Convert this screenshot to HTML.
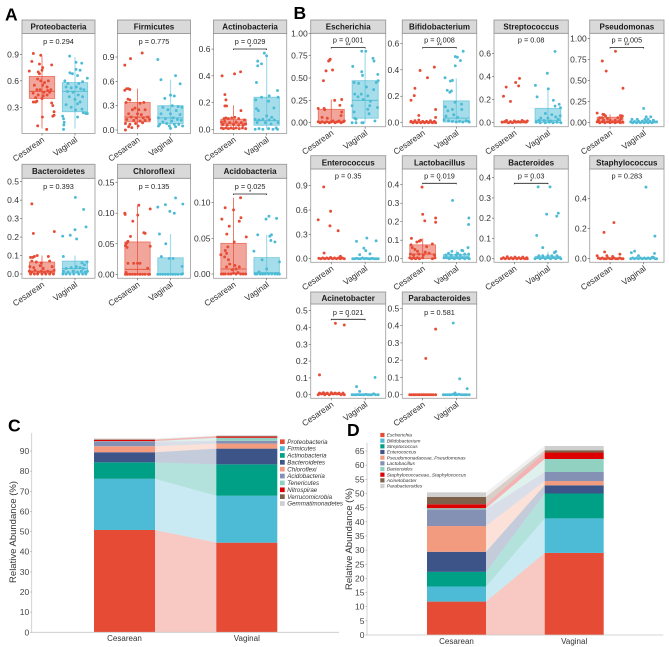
<!DOCTYPE html>
<html lang="en">
<head>
<meta charset="utf-8">
<title>Microbiome abundance by delivery mode</title>
<style>
html,body{margin:0;padding:0;background:#fff;width:669px;height:647px;overflow:hidden}
svg{display:block;font-family:"Liberation Sans",sans-serif}
</style>
</head>
<body>
<svg id="figure" xmlns="http://www.w3.org/2000/svg" width="669" height="647" viewBox="0 0 669 647">
<text x="5" y="20.5" font-size="17.5" font-weight="bold">A</text>
<text x="293.5" y="19" font-size="17.5" font-weight="bold">B</text>
<text x="8" y="431.5" font-size="17.5" font-weight="bold">C</text>
<text x="347" y="436" font-size="17.5" font-weight="bold">D</text>
</svg>
<script>
// Point series: each observation is [jitter within the box width (-1..1), relative abundance]
// Box series: [whisker low, q1, median, q3, whisker high]
const proteobacteriaC=[[-.68,.91],[-.1,.89],[-.8,.82],[-.2,.79],[.76,.78],[-1,.71],[-.3,.7],[-.2,.68],[0,.72],[.05,.75],[-.35,.62],[-.1,.6],[.2,.58],[.5,.6],[-.6,.55],[.05,.55],[.4,.53],[-.4,.5],[-.15,.5],[.15,.47],[.45,.49],[.7,.5],[-.7,.46],[-.3,.44],[.1,.43],[.4,.44],[.6,.47],[-.5,.41],[0,.4],[-.68,.36],[-.5,.36],[-.4,.37],[.76,.35],[.85,.32],[.95,.25],[.95,.21],[.85,.2],[.03,.19],[-.34,.09],[.37,.05]];
const proteobacteriaV=[[-.42,.88],[.08,.81],[.53,.8],[.08,.73],[-.4,.69],[.4,.72],[.97,.63],[-.2,.68],[.2,.66],[-.8,.6],[-.55,.57],[.3,.57],[.6,.59],[-.7,.53],[-.3,.52],[.1,.53],[.45,.51],[.7,.5],[-.6,.48],[-.15,.47],[.25,.44],[.6,.42],[-.45,.42],[0,.39],[.4,.36],[.2,.34],[-.7,.33],[-.3,.3],[.05,.27],[.55,.28],[.65,.24],[.85,.23],[.97,.23],[-.97,.2],[.2,.19],[-.9,.17],[-.85,.13],[-.88,.1],[-.9,.05]];
const firmicutesC=[[-1,.8],[-.55,.88],[.37,.95],[-1,.49],[-.85,.51],[-.72,.51],[-.6,.5],[-.75,.38],[-.6,.37],[-.9,.34],[.2,.33],[.5,.34],[-.2,.27],[-.4,.25],[.1,.25],[.6,.25],[-.7,.2],[0,.2],[.3,.19],[-.5,.16],[-.1,.15],[.45,.15],[.8,.16],[-.85,.13],[-.3,.12],[.2,.11],[.6,.12],[.95,.13],[-.95,.08],[-.6,.07],[-.15,.08],[.4,.09],[-.7,.04],[-.45,.03],[-.95,.0],[.05,.05]];
const firmicutesV=[[-1,.87],[-.75,.62],[.4,.67],[.76,.57],[0,.43],[.3,.42],[-.45,.39],[-.6,.28],[.15,.3],[.6,.29],[.9,.28],[-.2,.25],[.45,.24],[-.75,.2],[0,.2],[.75,.19],[-.95,.15],[-.4,.14],[.2,.15],[.55,.13],[-.6,.1],[.1,.11],[.85,.12],[-.85,.07],[-.3,.08],[.3,.07],[.65,.07],[-.95,.05],[-.1,.05],[.95,.05],[0,.02],[.4,.04]];
const actinobacteriaC=[[-.9,.4],[.08,.415],[.55,.43],[-.68,.26],[-.6,.22],[-.55,.175],[-.68,.175],[.58,.14],[-.75,.08],[-.6,.085],[-.4,.08],[-.15,.085],[.1,.09],[.4,.08],[.85,.07],[-.95,.055],[-.7,.06],[-.3,.05],[.2,.055],[.6,.05],[.95,.04],[-.85,.035],[-.5,.03],[0,.035],[.4,.03],[.75,.03],[-.95,.01],[-.8,.005],[-.6,.01],[-.4,.005],[-.2,.01],[0,.005],[.2,.01],[.45,.005],[.7,.01],[.95,.005]];
const actinobacteriaV=[[-.18,.57],[0,.55],[-.7,.51],[-.4,.49],[-.7,.475],[-.8,.35],[.85,.29],[.2,.25],[-.4,.24],[-.85,.22],[.9,.24],[.57,.16],[-.8,.155],[.15,.21],[-.65,.14],[0,.1],[.4,.09],[-.9,.075],[-.6,.07],[-.3,.075],[.2,.07],[.6,.07],[.9,.05],[-.75,.05],[-.1,.05],[.35,.04],[-.9,.0],[-.6,.005],[-.3,0],[.15,.005],[.5,0],[.75,.01],[.85,0]];
const bacteroidetesC=[[-.8,.38],[-.68,.22],[.97,.23],[-.9,.09],[-.72,.09],[-.6,.095],[-.38,.1],[.5,.095],[-.8,.07],[-.45,.065],[-.05,.06],[.6,.07],[-.95,.04],[-.65,.035],[-.15,.045],[.1,.03],[.8,.04],[-1,.015],[-.8,.01],[-.55,.02],[-.3,.01],[-.05,.015],[.2,.01],[.45,.015],[.7,.01],[.95,.02],[-.9,0],[-.6,0],[-.35,0],[0,0],[.3,0],[.6,0],[.9,0]];
const bacteroidetesV=[[.03,.415],[.68,.35],[.87,.255],[0,.24],[.13,.19],[-.97,.205],[-.37,.21],[-.92,.095],[.95,.065],[.55,.06],[.75,.05],[-.7,.03],[-.3,.035],[.1,.04],[.4,.035],[.65,.03],[-.9,.015],[-.55,.01],[-.15,.015],[.2,.01],[.5,.015],[.8,.01],[.98,.015],[-.95,0],[-.7,0],[-.4,0],[-.1,0],[.3,0],[.6,0],[.85,0]];
const chloroflexiC=[[-1,.1],[-.97,.098],[.1,.113],[.02,.097],[-.37,.087],[1,.107],[-.55,.062],[.5,.068],[.6,.067],[-.9,.05],[-.82,.052],[-.75,.054],[-.95,.047],[-.82,.044],[1,.046],[-.75,.018],[-.3,.018],[0,.018],[.2,.018],[.8,.01],[-.9,.003],[-.95,0],[-.8,0],[-.6,0],[-.4,0],[-.2,0],[0,0],[.2,0],[.4,0],[.6,0],[.85,0],[.95,0]];
const chloroflexiV=[[.4,.125],[-1,.11],[-.4,.114],[.97,.115],[-.05,.103],[.3,.1],[-.87,.066],[-.37,.05],[-.72,.029],[-.1,.026],[.2,.026],[.92,.013],[-1,0],[-.8,0],[-.6,0],[-.4,0],[-.2,0],[0,0],[.2,0],[.4,0],[.6,0],[.85,0],[.95,.001]];
const acidobacteriaC=[[.55,.107],[-.66,.093],[0,.09],[-.92,.077],[.58,.079],[.45,.074],[-.34,.067],[1,.052],[-.53,.056],[.05,.045],[-.45,.038],[-.65,.033],[-.55,.029],[-1,.027],[-.7,.024],[-.4,.02],[-.3,.014],[.1,.012],[-.55,.01],[.45,.01],[.2,.007],[-.1,.006],[-.95,0],[-.8,0],[-.65,0],[-.4,0],[-.2,0],[0,.001],[.2,0],[.35,.002],[.55,0],[.75,0],[.95,0]];
const acidobacteriaV=[[.18,.081],[-.05,.077],[.78,.078],[-.7,.055],[.25,.053],[.38,.055],[.33,.047],[.65,.045],[-1,.032],[1,.017],[-.36,.02],[0,.007],[-.6,.003],[-.9,0],[-.75,0],[-.5,0],[-.3,0],[-.1,0],[.15,0],[.4,0],[.65,0],[.85,0],[1,0]];
const escherichiaC=[[-.08,.71],[-.13,.7],[-.2,.69],[.1,.59],[-.4,.58],[-.6,.47],[.8,.26],[.26,.25],[.66,.195],[-1,.16],[-.55,.16],[-.5,.145],[.8,.12],[.75,.08],[-.7,.06],[-.3,.05],[-1,.01],[-.85,0],[-.7,.01],[-.5,0],[-.35,.01],[-.15,0],[0,.01],[.15,.02],[.3,0],[.45,.01],[.6,.02],[.75,0],[.9,.01],[1,.02]];
const escherichiaV=[[-.26,.8],[.05,.8],[-.95,.63],[.6,.72],[.68,.69],[-.26,.57],[-.2,.53],[.97,.54],[.85,.45],[1,.47],[-.85,.45],[-.5,.44],[.1,.4],[.65,.37],[-.8,.32],[-.3,.32],[-.55,.29],[.2,.3],[-.15,.26],[.4,.24],[.35,.19],[-1,.19],[.2,.15],[.95,.17],[-.85,.12],[.3,.1],[-.8,.05],[-.7,.04],[.75,.02],[-1,0],[-.7,0],[-.25,0],[-.15,0]];
const bifidobacteriumC=[[-.2,.395],[.9,.42],[.37,.34],[-.6,.26],[-.65,.205],[-.9,.17],[1,.1],[-.3,.055],[1,.04],[-.9,.01],[-.75,0],[-.6,.015],[-.45,0],[-.3,.02],[-.15,0],[0,.01],[.15,0],[.3,.01],[.45,0],[.6,.015],[.75,0],[.9,.01],[1,0]];
const bifidobacteriumV=[[.53,.54],[-.08,.5],[.08,.495],[.32,.47],[-.08,.43],[-.87,.34],[-.45,.315],[-.3,.32],[-.7,.245],[-.5,.23],[-.38,.24],[-.1,.155],[.4,.14],[.42,.1],[-.85,.12],[-.3,.1],[-.65,.09],[-.8,.05],[-.2,.06],[.1,.04],[-.95,.02],[-.6,.015],[-.3,.01],[0,.005],[.25,.01],[.5,.005],[.75,.015],[.95,.01],[1,.005]];
const streptococcusC=[[.4,.385],[.1,.35],[.33,.32],[-.63,.31],[-.84,.23],[-.3,.185],[-.95,.005],[-.75,.01],[-.6,.02],[-.45,0],[-.3,.01],[-.15,0],[0,.015],[.15,.005],[.3,.01],[.45,.005],[.6,.02],[.75,.01],[.9,.005],[1,.015]];
const streptococcusV=[[.55,.62],[-.05,.43],[-.97,.325],[-.84,.225],[.03,.295],[.42,.195],[.87,.16],[.55,.145],[.97,.13],[-.2,.08],[.3,.07],[.95,.06],[-.55,.04],[0,.04],[.6,.05],[.8,.03],[-.7,.02],[-.3,.02],[.2,.015],[-.9,.005],[-.6,0],[-.2,0],[.1,.005],[.4,0],[.7,.005],[1,0]];
const pseudomonasC=[[.42,.85],[-.6,.735],[-.3,.615],[1,.41],[-1,.115],[-.55,.1],[-.45,.095],[-.35,.08],[.8,.085],[.95,.08],[-.8,.06],[-.6,.06],[-.2,.05],[.6,.06],[.85,.05],[-.9,.03],[-.5,.03],[0,.03],[.4,.03],[.75,.025],[-1,.01],[-.8,0],[-.6,.01],[-.4,0],[-.2,.01],[0,0],[.2,.01],[.4,0],[.6,.01],[.8,0],[1,.005]];
const pseudomonasV=[[0,.17],[.2,.07],[.55,.07],[-.9,.04],[-.5,.04],[.1,.04],[.35,.04],[.75,.03],[-1,.01],[-.85,0],[-.7,.015],[-.55,0],[-.4,.02],[-.25,0],[-.1,.02],[.05,0],[.2,.02],[.35,0],[.5,.015],[.65,0],[.8,.015],[1,.01]];
const enterococcusC=[[-.58,.885],[-.05,.585],[-1,.48],[-.1,.405],[.53,.345],[-.55,.07],[.7,.03],[-.95,.005],[-.8,0],[-.65,.01],[-.5,0],[-.35,.01],[-.2,0],[-.05,.015],[.1,0],[.25,.01],[.4,0],[.55,.01],[.7,0],[.85,.01],[1,0]];
const enterococcusV=[[.13,.255],[-.66,.215],[.84,.22],[-.1,.13],[.05,.1],[.37,.06],[-.42,.05],[-.95,0],[-.8,0],[-.65,.005],[-.5,0],[-.35,0],[-.2,.01],[-.05,0],[.1,.005],[.25,0],[.4,0],[.55,.005],[.7,0],[.85,0],[1,0]];
const lactobacillusC=[[-.05,.387],[0,.24],[.16,.205],[1,.22],[1,.197],[-.87,.11],[-.26,.095],[-.45,.09],[-.9,.075],[-.15,.1],[.75,.08],[.3,.065],[-.8,.06],[-.6,.05],[-.4,.04],[.2,.035],[-.95,.025],[-.7,.02],[-.3,.025],[.05,.02],[.5,.03],[.9,.02],[-1,.005],[-.85,0],[-.7,.005],[-.55,0],[-.4,.005],[-.25,0],[0,.005],[.75,0],[.95,.005]];
const lactobacillusV=[[-.29,.315],[.97,.22],[.95,.185],[.9,.06],[-.34,.04],[.42,.045],[.5,.043],[-.6,.03],[.1,.03],[.95,.025],[-.8,.02],[-.4,.02],[0,.02],[.3,.02],[.65,.025],[-.95,.005],[-.75,.005],[-.55,0],[-.35,.005],[-.15,0],[.05,.005],[.25,0],[.45,.005],[.65,0],[.85,.005],[1,0]];
const bacteroidesC=[[-1,0],[-.85,.005],[-.7,0],[-.55,.01],[-.4,0],[-.25,.005],[-.1,0],[.05,.008],[.2,0],[.35,.005],[.5,0],[.65,.008],[.8,0],[.95,.005],[1,0]];
const bacteroidesV=[[-.76,.355],[.16,.355],[-.1,.22],[.8,.225],[.68,.21],[-.87,.115],[-.4,.055],[.6,.035],[.5,.03],[-.7,.015],[-.4,.015],[0,.015],[.3,.015],[.7,.015],[-1,0],[-.8,.005],[-.6,0],[-.4,.005],[-.2,0],[0,.005],[.2,0],[.4,.005],[.6,0],[.8,.005],[1,0]];
const staphylococcusC=[[.3,.24],[-.47,.175],[-.42,.045],[-1,.02],[-.25,.02],[.76,.03],[.2,.015],[-.9,.005],[-.75,0],[-.6,.005],[-.45,0],[-.3,0],[-.15,.005],[0,0],[.15,0],[.3,.005],[.45,0],[.6,0],[.75,.005],[.9,0],[1,0]];
const staphylococcusV=[[.18,.475],[.87,.15],[.84,.035],[-.95,.04],[-.7,.05],[-.4,.02],[.75,.01],[-1,0],[-.85,.005],[-.7,0],[-.55,.005],[-.4,0],[-.25,.005],[-.1,0],[.05,.005],[.2,0],[.35,.005],[.5,0],[.65,.01],[.9,0],[1,0]];
const acinetobacterC=[[.32,.425],[1,.415],[-.9,.118],[-.9,.01],[-.75,.005],[-.6,.012],[-.45,.005],[-.3,.01],[-.15,0],[0,.012],[.15,.005],[.3,.01],[.45,.005],[.6,.01],[.75,0],[.9,.01],[1,0],[-1,0],[-.5,0]];
const acinetobacterV=[[.76,.103],[-.66,.048],[-.42,.02],[-1,0],[-.85,0],[-.7,0],[-.55,.001],[-.4,0],[-.25,0],[-.1,0],[.05,.002],[.2,0],[.35,0],[.5,0],[.65,.005],[.8,0],[1,0]];
const parabacteroidesC=[[1,.38],[.24,.21],[-1,0],[-.85,0],[-.7,0],[-.55,0],[-.4,0],[-.25,0],[-.1,0],[.05,0],[.2,0],[.35,0],[.5,0],[.65,0],[.8,0],[1,0]];
const parabacteroidesV=[[-.24,.415],[.26,.092],[.84,.035],[-.1,.01],[-1,0],[-.85,0],[-.7,0],[-.55,0],[-.4,0],[-.25,.002],[-.1,0],[.05,0],[.2,.002],[.35,0],[.5,0],[.65,0],[.8,0],[1,0]];

const proteobacteriaBoxes=[[.06,.4,.48,.65,.88],[.06,.25,.48,.58,.87]];
const firmicutesBoxes=[[.01,.1,.16,.34,.51],[.02,.08,.15,.3,.62]];
const actinobacteriaBoxes=[[0,.03,.045,.075,.18],[0,.03,.065,.24,.55]];
const bacteroidetesBoxes=[[0,.005,.015,.065,.1],[0,.005,.03,.07,.1]];
const chloroflexiBoxes=[[0,0,.008,.053,.112],[0,0,0,.027,.066]];
const acidobacteriaBoxes=[[0,0,.007,.043,.107],[0,0,.002,.023,.055]];
const escherichiaBoxes=[[0,0,.01,.15,.26],[0,.05,.25,.47,.8]];
const bifidobacteriumBoxes=[[0,0,0,.01,.02],[0,.005,.035,.165,.335]];
const streptococcusBoxes=[[0,0,0,.005,.01],[0,0,.02,.125,.295]];
const pseudomonasBoxes=[[0,0,.01,.065,.1],[0,0,0,.01,.02]];
const enterococcusBoxes=[[0,0,0,.002,.005],[0,0,0,.002,.005]];
const lactobacillusBoxes=[[0,0,.025,.075,.11],[0,0,.01,.022,.045]];
const bacteroidesBoxes=[[0,0,0,.002,.005],[0,.002,.005,.012,.035]];
const staphylococcusBoxes=[[0,0,0,.002,.005],[0,0,0,.003,.008]];
const acinetobacterBoxes=[[0,0,.002,.005,.012],[0,0,0,.001,.002]];
const parabacteroidesBoxes=[[0,0,0,0,0],[0,0,0,0,.001]];

const taxaNames=["Proteobacteria","Firmicutes","Actinobacteria","Bacteroidetes","Chloroflexi","Acidobacteria","Escherichia","Bifidobacterium","Streptococcus","Pseudomonas","Enterococcus","Lactobacillus","Bacteroides","Staphylococcus","Acinetobacter","Parabacteroides"];
const pValues=["0.294","0.775","0.029","0.393","0.135","0.025","0.001","0.008","0.08","0.005","0.35","0.019","0.03","0.283","0.021","0.581"];
const significance=["","","*","","","*","**","**","","**","","*","*","","*",""];
const tickLabelSets=[["0.3","0.6","0.9"],["0.0","0.3","0.6","0.9"],["0.0","0.2","0.4","0.6"],["0.0","0.1","0.2","0.3","0.4","0.5"],["0.00","0.05","0.10","0.15"],["0.00","0.05","0.10"],["0.00","0.25","0.50","0.75","1.00"],["0.0","0.2","0.4","0.6"],["0.0","0.2","0.4","0.6"],["0.00","0.25","0.50","0.75","1.00"],["0.0","0.3","0.6","0.9"],["0.0","0.1","0.2","0.3","0.4"],["0.0","0.1","0.2","0.3","0.4"],["0.0","0.2","0.4"],["0.0","0.1","0.2","0.3","0.4","0.5"],["0.0","0.1","0.2","0.3","0.4","0.5"]];
const pointSets=[[proteobacteriaC,proteobacteriaV],[firmicutesC,firmicutesV],[actinobacteriaC,actinobacteriaV],[bacteroidetesC,bacteroidetesV],[chloroflexiC,chloroflexiV],[acidobacteriaC,acidobacteriaV],[escherichiaC,escherichiaV],[bifidobacteriumC,bifidobacteriumV],[streptococcusC,streptococcusV],[pseudomonasC,pseudomonasV],[enterococcusC,enterococcusV],[lactobacillusC,lactobacillusV],[bacteroidesC,bacteroidesV],[staphylococcusC,staphylococcusV],[acinetobacterC,acinetobacterV],[parabacteroidesC,parabacteroidesV]];
const boxSets=[proteobacteriaBoxes,firmicutesBoxes,actinobacteriaBoxes,bacteroidetesBoxes,chloroflexiBoxes,acidobacteriaBoxes,escherichiaBoxes,bifidobacteriumBoxes,streptococcusBoxes,pseudomonasBoxes,enterococcusBoxes,lactobacillusBoxes,bacteroidesBoxes,staphylococcusBoxes,acinetobacterBoxes,parabacteroidesBoxes];
const groupLabels=["Cesarean","Vaginal"];

const phylaNames=["Proteobacteria","Firmicutes","Actinobacteria","Bacteroidetes","Chloroflexi","Acidobacteria","Tenericutes","Nitrospirae","Verrucomicrobia","Gemmatimonadetes"];
const phylaCesarean=[50.8,25.4,8.2,5,3,2.3,.2,.7,.2,.4];
const phylaVaginal=[44.5,23.3,15.6,7.8,2.5,1.4,1.5,.6,.2,.4];
const phylaTicks=[0,10,20,30,40,50,60,70,80,90];
const generaNames=["Escherichia","Bifidobacterium","Streptococcus","Enterococcus","Pseudomonadaceae_Pseudomonas","Lactobacillus","Bacteroides","Staphylococcaceae_Staphylococcus","Acinetobacter","Parabacteroides"];
const generaCesarean=[11.8,5.3,5.2,7.1,9.1,5.9,.4,1.4,2.6,1.6];
const generaVaginal=[29,12.2,8.8,2.9,1.5,3.2,4.6,2.3,.8,1.5];
const generaTicks=[0,5,10,15,20,25,30,35,40,45,50,55,60,65];

// Layout (not data)
const GROUP_COLORS=['#E64B35','#4DBBD5'];
const STACK_COLORS=['#E64B35','#4DBBD5','#00A087','#3C5488','#F39B7F','#8491B4','#91D1C2','#DC0000','#7E6148','#CFCFCF'];
const rowA1={strip:20,top:33.5,bottom:133.5,pText:41.5,bracket:49};
const rowA2={strip:164.3,top:178.3,bottom:278.3,pText:186.5,bracket:194};
const rowB1={strip:20,top:33.3,bottom:126.7,pText:40,bracket:47.5};
const rowB2={strip:155.7,top:169,bottom:262.3,pText:176,bracket:183.3};
const rowB3={strip:292,top:304,bottom:398.3,pText:312.3,bracket:319.3};
const panelLayout=[
 {x:22,w:73,r:rowA1,y0:133.8,k:88.3},{x:117.5,w:73,r:rowA1,y0:130,k:81.1},{x:213.5,w:73.2,r:rowA1,y0:129.3,k:133.7},
 {x:22,w:73,r:rowA2,y0:274,k:184.6},{x:117.5,w:73,r:rowA2,y0:274.3,k:611},{x:213.5,w:73.2,r:rowA2,y0:274,k:713},
 {x:310.7,w:75,r:rowB1,y0:122.7,k:89.4},{x:402.3,w:74.4,r:rowB1,y0:122.7,k:132.3},{x:494,w:74.3,r:rowB1,y0:122.7,k:115},{x:589.7,w:74.3,r:rowB1,y0:122.7,k:84},
 {x:310.7,w:75,r:rowB2,y0:258.7,k:81.1},{x:402.3,w:74.4,r:rowB2,y0:258.7,k:185},{x:494,w:74.3,r:rowB2,y0:258.7,k:202.5},{x:589.7,w:74.3,r:rowB2,y0:258.7,k:150.7},
 {x:310.7,w:75,r:rowB3,y0:394.7,k:168},{x:402.3,w:74.4,r:rowB3,y0:394.7,k:172.7}
];

const NS='http://www.w3.org/2000/svg';
const figure=document.getElementById('figure');
function draw(parent,tag,attrs,text){
  const node=document.createElementNS(NS,tag);
  for(const key in attrs) node.setAttribute(key,attrs[key]);
  if(text!==undefined) node.textContent=text;
  parent.appendChild(node);
  return node;
}
const slug=s=>s.toLowerCase().replace(/_/g,'-');

panelLayout.forEach(function(layout,i){
  const taxon=slug(taxaNames[i]);
  const g=draw(figure,'g',{});
  
  
  const r=layout.r;
  const yScale=v=>layout.y0-v*layout.k;
  const xScale=c=>layout.x+layout.w*(c===0?0.274:0.726);
  const halfBox=layout.w*0.174;

  const frame=draw(g,'rect',{x:layout.x,y:r.top,width:layout.w,height:r.bottom-r.top,fill:'#fff',stroke:'#a6a6a6','stroke-width':.9});
  
  
  const strip=draw(g,'rect',{x:layout.x,y:r.strip,width:layout.w,height:r.top-r.strip,fill:'#d9d9d9',stroke:'#9a9a9a','stroke-width':.9});
  
  
  const title=draw(g,'text',{x:layout.x+layout.w/2,y:(r.strip+r.top)/2+2.9,'text-anchor':'middle','font-size':8,'font-weight':'bold',fill:'#1a1a1a'},taxaNames[i]);
  
  

  tickLabelSets[i].forEach(function(label){
    const y=yScale(parseFloat(label));
    const tick=draw(g,'line',{x1:layout.x-2,x2:layout.x,y1:y,y2:y,stroke:'#555','stroke-width':.6});
    
    
    const tickLabel=draw(g,'text',{x:layout.x-3,y:y+3,'text-anchor':'end','font-size':8.5,fill:'#333'},label);
    
    
  });

  [0,1].forEach(function(c){
    const cx=xScale(c),color=GROUP_COLORS[c],b=boxSets[i][c];
    const groupName=slug(groupLabels[c]);
    const whisker=draw(g,'line',{x1:cx,x2:cx,y1:yScale(b[0]),y2:yScale(b[4]),stroke:color,'stroke-width':c?1.2:.9,'stroke-opacity':c?.5:.8});
    
    
    const box=draw(g,'rect',{x:cx-halfBox,y:yScale(b[3]),width:halfBox*2,height:Math.max(.2,yScale(b[1])-yScale(b[3])),fill:color,'fill-opacity':.5,stroke:color,'stroke-opacity':.7,'stroke-width':.8});
    
    
    const median=draw(g,'line',{x1:cx-halfBox,x2:cx+halfBox,y1:yScale(b[2]),y2:yScale(b[2]),stroke:color,'stroke-opacity':.85,'stroke-width':1});
    
    
    pointSets[i][c].forEach(function(p){
      const dot=draw(g,'circle',{cx:cx+p[0]*halfBox,cy:yScale(p[1]),r:1.45,fill:color});
      
      
    });
    const xTick=draw(g,'line',{x1:cx,x2:cx,y1:r.bottom,y2:r.bottom+2,stroke:'#555','stroke-width':.6});
    
    
    const ax=cx+3,ay=r.bottom+7.5;
    const catLabel=draw(g,'text',{x:ax,y:ay,'text-anchor':'end','font-size':8.4,fill:'#333',transform:'rotate(-35 '+ax+' '+ay+')'},groupLabels[c]);
    
    
  });

  const pLabel=draw(g,'text',{x:layout.x+layout.w/2,y:r.pText+2.6,'text-anchor':'middle','font-size':7.3,fill:'#222'},'p = '+pValues[i]);
  
  
  if(significance[i]){
    const x1=xScale(0),x2=xScale(1),by=r.bracket;
    const bracket=draw(g,'path',{d:'M'+x1+' '+(by+1)+'V'+by+'H'+x2+'V'+(by+1),fill:'none',stroke:'#222','stroke-width':.8});
    
    
    const stars=draw(g,'text',{x:layout.x+layout.w/2,y:by,'text-anchor':'middle','font-size':6.5,fill:'#222'},significance[i]);
    
    
  }
});

function stackedChart(cfg){
  const g=draw(figure,'g',{});
  
  
  const yScale=v=>cfg.y0-v*cfg.k;
  const columns=[cfg.left,cfg.right];
  let cumL=0,cumR=0;
  cfg.names.forEach(function(name,i){
    const l0=cumL,r0=cumR;
    cumL+=cfg.left[i];
    cumR+=cfg.right[i];
    const series=slug(name);
    const flow=draw(g,'polygon',{points:[[cfg.bars[0]+cfg.barW,yScale(l0)],[cfg.bars[1],yScale(r0)],[cfg.bars[1],yScale(cumR)],[cfg.bars[0]+cfg.barW,yScale(cumL)]].map(q=>q.join(',')).join(' '),fill:STACK_COLORS[i],'fill-opacity':.3});
    
    
    [l0,r0].forEach(function(base,c){
      const top=base+columns[c][i];
      const seg=draw(g,'rect',{x:cfg.bars[c],y:yScale(top),width:cfg.barW,height:yScale(base)-yScale(top),fill:STACK_COLORS[i]});
      
      
    });
  });
  const yAxis=draw(g,'line',{x1:cfg.axisX,x2:cfg.axisX,y1:cfg.axisTop,y2:cfg.y0,stroke:'#c8c8c8','stroke-width':.8});
  
  
  const xAxis=draw(g,'line',{x1:cfg.axisX,x2:cfg.axisEnd,y1:cfg.y0,y2:cfg.y0,stroke:'#c8c8c8','stroke-width':.8});
  
  
  cfg.ticks.forEach(function(t){
    const y=yScale(t);
    const tick=draw(g,'line',{x1:cfg.axisX-1.5,x2:cfg.axisX,y1:y,y2:y,stroke:'#999','stroke-width':.6});
    
    
    const label=draw(g,'text',{x:cfg.axisX-2.5,y:y+3,'text-anchor':'end','font-size':8.5,fill:'#444'},t);
    
    
  });
  groupLabels.forEach(function(lab,c){
    const label=draw(g,'text',{x:cfg.bars[c]+cfg.barW/2,y:cfg.y0+8.8,'text-anchor':'middle','font-size':8,fill:'#333'},lab);
    
    
  });
  const yTitle=draw(g,'text',{x:cfg.titleX,y:cfg.titleY,'text-anchor':'middle','font-size':9.5,fill:'#333',transform:'rotate(-90 '+cfg.titleX+' '+cfg.titleY+')'},'Relative Abundance (%)');
  
  
  cfg.names.forEach(function(name,i){
    const ly=cfg.legendY+i*cfg.legendStep;
    const swatch=draw(g,'rect',{x:cfg.legendX,y:ly-cfg.swatch/2,width:cfg.swatch,height:cfg.swatch,fill:STACK_COLORS[i]});
    
    
    const entry=draw(g,'text',{x:cfg.legendTextX,y:ly+cfg.legendFont*.35,'font-size':cfg.legendFont,'font-style':'italic',fill:'#333'},name);
    
    
  });
}
stackedChart({name:'stacked-bar-phyla',names:phylaNames,left:phylaCesarean,right:phylaVaginal,ticks:phylaTicks,y0:632.3,k:2.014,bars:[94,216.3],barW:61,axisX:31.7,axisTop:433,axisEnd:339,titleX:16,titleY:532,legendX:280,legendTextX:287.3,legendY:441.7,legendStep:6.87,swatch:4.7,legendFont:6.2});
stackedChart({name:'stacked-bar-genera',names:generaNames,left:generaCesarean,right:generaVaginal,ticks:generaTicks,y0:635,k:2.83,bars:[427,544.7],barW:59,axisX:367,axisTop:442.7,axisEnd:663.3,titleX:352,titleY:539,legendX:380.3,legendTextX:386.7,legendY:435,legendStep:5.67,swatch:4.2,legendFont:4.9});
</script>
</body>
</html>
